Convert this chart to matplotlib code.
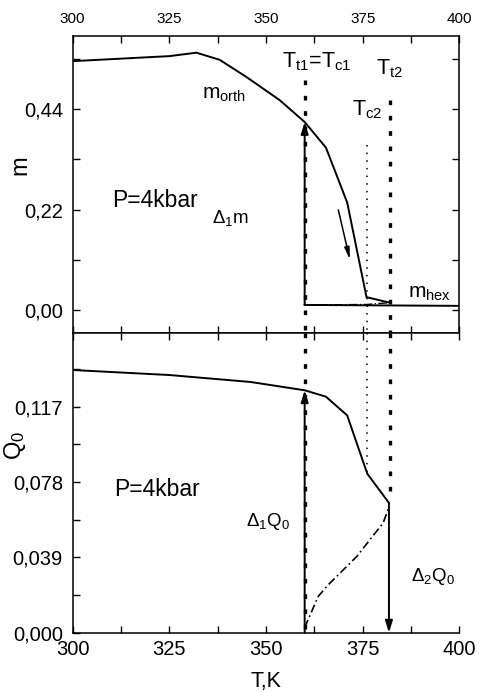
import matplotlib
matplotlib.use('Agg')
from matplotlib import pyplot as plt
from matplotlib.ticker import FixedLocator
import numpy as np

plt.rcParams['font.family'] = ['Liberation Sans', 'DejaVu Sans']
plt.rcParams['mathtext.default'] = 'regular'

# top panel: order parameter m
T_orth = [300, 325, 332, 338, 345, 353.5, 360, 365.5, 371, 376, 382]
m_orth = [0.545, 0.556, 0.5635, 0.548, 0.51, 0.46, 0.412, 0.356, 0.236, 0.029, 0.017]
T_hex = [360, 400]
m_hex = [0.012, 0.010]
T_hexdd = [360, 376, 382]
m_hexdd = [0.012, 0.013, 0.017]

# bottom panel: Q0
T_q = [300, 325, 346, 360, 365.5, 371, 376.2, 381.8]
q_orth = [0.136, 0.1334, 0.1298, 0.1255, 0.1222, 0.1125, 0.0823, 0.0672]
T_qdd = [360, 363.5, 366.1, 373.5, 376.9, 380.3, 381.8]
q_dd = [0.0026, 0.0188, 0.0248, 0.0395, 0.0482, 0.0568, 0.065]

Tt1 = 360
Tc2 = 376
Tt2 = 382

xticks = [300, 325, 350, 375, 400]
m_ticks = [0.0, 0.22, 0.44]
m_labels = ['0,00', '0,22', '0,44']
q_ticks = [0.0, 0.039, 0.078, 0.117]
q_labels = ['0,000', '0,039', '0,078', '0,117']

W, H = 480, 692
fig = plt.figure(figsize=(4.8, 6.92), dpi=100)
L = 72.7 / W
Wd = (459.3 - 72.7) / W
ax1 = fig.add_axes([L, (H - 333.3) / H, Wd, (333.3 - 36) / H])
ax2 = fig.add_axes([L, (H - 632.7) / H, Wd, (632.7 - 333.3) / H])

lw = 1.4
thick_dots = (0, (1.4, 3.2))
for ax in (ax1, ax2):
    ax.set_xlim(300, 400)
    for s in ax.spines.values():
        s.set_linewidth(1.1)
    ax.xaxis.set_major_locator(FixedLocator(xticks))
    ax.xaxis.set_minor_locator(FixedLocator([312.5, 337.5, 362.5, 387.5]))
    ax.tick_params(which='major', direction='in', length=5, width=1.0)
    ax.tick_params(which='minor', direction='in', length=5, width=1.0)

# ---- top
ax1.set_ylim(-0.05, 0.60)
ax1.yaxis.set_major_locator(FixedLocator(m_ticks))
ax1.yaxis.set_minor_locator(FixedLocator([0.11, 0.33, 0.55]))
ax1.set_yticklabels(m_labels)
ax1.tick_params(axis='y', which='both', left=True, right=True, labelsize=14.5, pad=7)
ax1.tick_params(axis='x', which='both', top=True, bottom=True, labeltop=True,
                labelbottom=False, labelsize=11, pad=7)

ax1.plot(T_orth, m_orth, color='black', lw=lw)
ax1.plot(T_hex, m_hex, color='black', lw=lw)
ax1.plot(T_hexdd, m_hexdd, color='black', lw=1.0, linestyle='-.')
ax1.plot([Tt1, Tt1], [0.503, -0.05], color='black', lw=2.4, linestyle=thick_dots)
ax1.plot([Tt2, Tt2], [0.46, -0.05], color='black', lw=2.4, linestyle=thick_dots)
ax1.plot([Tc2, Tc2], [0.362, -0.05], color='black', lw=1.1, linestyle=(0, (1, 4)))
ax1.annotate('', xy=(Tt1, 0.412), xytext=(Tt1, 0.012),
             arrowprops=dict(arrowstyle='-|>,head_length=0.7,head_width=0.22',
                             color='black', lw=lw, shrinkA=0, shrinkB=0))
ax1.annotate('', xy=(371.7, 0.111), xytext=(368.7, 0.22),
             arrowprops=dict(arrowstyle='-|>,head_length=0.7,head_width=0.15',
                             color='black', lw=1.1, shrinkA=0, shrinkB=0))

ax1.text(363.1, 0.5315, 'T$_{t1}$=T$_{c1}$', fontsize=15.5, ha='center', va='baseline')
ax1.text(381.9, 0.516, 'T$_{t2}$', fontsize=15.5, ha='center', va='baseline')
ax1.text(376.1, 0.427, 'T$_{c2}$', fontsize=15.5, ha='center', va='baseline')
ax1.text(339.1, 0.464, 'm$_{orth}$', fontsize=15, ha='center', va='baseline')
ax1.text(321.4, 0.227, 'P=4kbar', fontsize=16.5, ha='center', va='baseline')
ax1.text(340.8, 0.192, 'Δ$_1$m', fontsize=13.5, ha='center', va='baseline')
ax1.text(392.2, 0.0277, 'm$_{hex}$', fontsize=15, ha='center', va='baseline')

# ---- bottom
ax2.set_ylim(0, 0.155)
ax2.yaxis.set_major_locator(FixedLocator(q_ticks))
ax2.yaxis.set_minor_locator(FixedLocator([0.0195, 0.0585, 0.0975, 0.1365]))
ax2.set_yticklabels(q_labels)
ax2.spines['right'].set_visible(False)
ax2.tick_params(axis='y', which='both', left=True, right=False, labelsize=14.5, pad=7)
ax2.tick_params(axis='x', which='both', top=True, bottom=True, labelsize=14.5, pad=5)

ax2.plot(T_q, q_orth, color='black', lw=lw)
ax2.plot(T_qdd, q_dd, color='black', lw=1.2, linestyle=(0, (5, 2, 1, 2)))
ax2.plot([Tt1, Tt1], [0.155, 0.0], color='black', lw=2.4, linestyle=thick_dots)
ax2.plot([Tt2, Tt2], [0.155, 0.0705], color='black', lw=2.4, linestyle=thick_dots)
ax2.plot([Tc2, Tc2], [0.155, 0.0823], color='black', lw=1.1, linestyle=(0, (1, 4)))
ax2.annotate('', xy=(Tt1, 0.1255), xytext=(Tt1, 0.0),
             arrowprops=dict(arrowstyle='-|>,head_length=0.7,head_width=0.22',
                             color='black', lw=lw, shrinkA=0, shrinkB=0))
ax2.annotate('', xy=(381.8, 0.0), xytext=(381.8, 0.0672),
             arrowprops=dict(arrowstyle='-|>,head_length=0.7,head_width=0.22',
                             color='black', lw=lw, shrinkA=0, shrinkB=0))

ax2.text(321.7, 0.071, 'P=4kbar', fontsize=16.5, ha='center', va='baseline')
ax2.text(350.4, 0.055, 'Δ$_1$Q$_0$', fontsize=13.5, ha='center', va='baseline')
ax2.text(393.2, 0.027, 'Δ$_2$Q$_0$', fontsize=13.5, ha='center', va='baseline')

fig.text(20 / W, 1 - 165 / H, 'm', fontsize=17, rotation=90, ha='center', va='center')
fig.text(15 / W, 1 - 445 / H, 'Q$_0$', fontsize=17, rotation=90, ha='center', va='center')
fig.text(266 / W, 1 - 681 / H, 'T,K', fontsize=15.5, ha='center', va='center')

fig.savefig('out.png', dpi=100)
